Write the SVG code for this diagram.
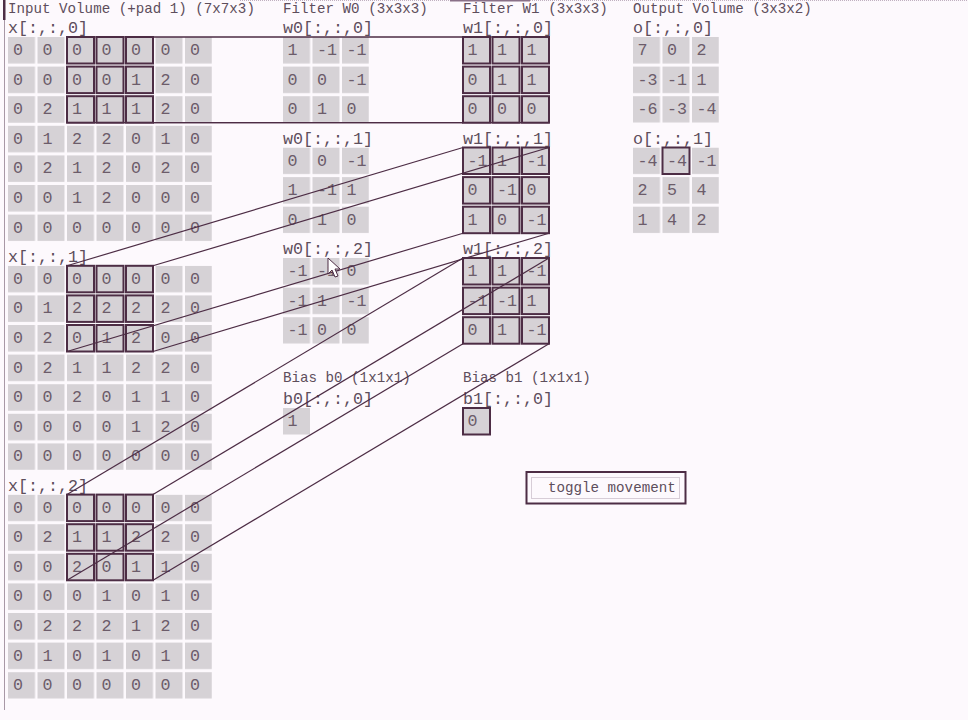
<svg xmlns="http://www.w3.org/2000/svg" width="968" height="720" viewBox="0 0 968 720">
<style>
.bg{fill:#fdf9fd}
.t{font-family:"Liberation Mono","DejaVu Sans Mono",monospace;font-size:14.2px;fill:#5e4e5c}
.l{font-family:"Liberation Mono","DejaVu Sans Mono",monospace;font-size:16.7px;fill:#5e4e5c}
.v text{font-family:"Liberation Mono","DejaVu Sans Mono",monospace;font-size:16.7px;fill:#6c5c6a}
.hl{fill:none;stroke:#4d2d45;stroke-width:2}
.cn line{stroke:#4d2d45;stroke-width:1.2}
.btn{fill:#fdf9fd;stroke:#4d2d45;stroke-width:2}
.foc{fill:none;stroke:#b0a0b0;stroke-width:1;stroke-dasharray:1 1}
</style>
<defs>
<pattern id="grid" patternUnits="userSpaceOnUse" width="29.5" height="29.6">
<rect width="27" height="26.5" fill="#d6d2d6"/>
</pattern>
<rect id="hc" width="27" height="26.5" class="hl"/>
</defs>
<rect class="bg" width="968" height="720"/>
<line x1="4.5" y1="0" x2="4.5" y2="710" stroke="#a898a6" stroke-width="1"/>
<rect x="3" y="0" width="2.5" height="20" fill="#4d2d45"/>
<line x1="240" y1="0.5" x2="968" y2="0.5" stroke="#c0b0c0" stroke-width="1" stroke-dasharray="1 1"/>
<rect x="450" y="0" width="80" height="1.5" fill="#8a7088"/>

<g id="titles">
<text class="t" x="8" y="12.5">Input Volume (+pad 1) (7x7x3)</text>
<text class="t" x="283" y="12.5">Filter W0 (3x3x3)</text>
<text class="t" x="463" y="12.5">Filter W1 (3x3x3)</text>
<text class="t" x="633" y="12.5">Output Volume (3x3x2)</text>
</g>

<g id="x0">
<text class="l" x="8" y="33">x[:,:,0]</text>
<g class="v" transform="translate(8,37)">
<rect width="204" height="204.1" fill="url(#grid)"/>
<text x="5" y="18">0</text><text x="34.5" y="18">0</text><text x="64" y="18">0</text><text x="93.5" y="18">0</text><text x="123" y="18">0</text><text x="152.5" y="18">0</text><text x="182" y="18">0</text>
<text x="5" y="47.6">0</text><text x="34.5" y="47.6">0</text><text x="64" y="47.6">0</text><text x="93.5" y="47.6">0</text><text x="123" y="47.6">1</text><text x="152.5" y="47.6">2</text><text x="182" y="47.6">0</text>
<text x="5" y="77.2">0</text><text x="34.5" y="77.2">2</text><text x="64" y="77.2">1</text><text x="93.5" y="77.2">1</text><text x="123" y="77.2">1</text><text x="152.5" y="77.2">2</text><text x="182" y="77.2">0</text>
<text x="5" y="106.8">0</text><text x="34.5" y="106.8">1</text><text x="64" y="106.8">2</text><text x="93.5" y="106.8">2</text><text x="123" y="106.8">0</text><text x="152.5" y="106.8">1</text><text x="182" y="106.8">0</text>
<text x="5" y="136.4">0</text><text x="34.5" y="136.4">2</text><text x="64" y="136.4">1</text><text x="93.5" y="136.4">2</text><text x="123" y="136.4">0</text><text x="152.5" y="136.4">2</text><text x="182" y="136.4">0</text>
<text x="5" y="166">0</text><text x="34.5" y="166">0</text><text x="64" y="166">1</text><text x="93.5" y="166">2</text><text x="123" y="166">0</text><text x="152.5" y="166">0</text><text x="182" y="166">0</text>
<text x="5" y="195.6">0</text><text x="34.5" y="195.6">0</text><text x="64" y="195.6">0</text><text x="93.5" y="195.6">0</text><text x="123" y="195.6">0</text><text x="152.5" y="195.6">0</text><text x="182" y="195.6">0</text>
<use href="#hc" x="59" y="0"/><use href="#hc" x="88.5" y="0"/><use href="#hc" x="118" y="0"/>
<use href="#hc" x="59" y="29.6"/><use href="#hc" x="88.5" y="29.6"/><use href="#hc" x="118" y="29.6"/>
<use href="#hc" x="59" y="59.2"/><use href="#hc" x="88.5" y="59.2"/><use href="#hc" x="118" y="59.2"/>
</g>
</g>

<g id="x1">
<text class="l" x="8" y="262">x[:,:,1]</text>
<g class="v" transform="translate(8,265.8)">
<rect width="204" height="204.1" fill="url(#grid)"/>
<text x="5" y="18">0</text><text x="34.5" y="18">0</text><text x="64" y="18">0</text><text x="93.5" y="18">0</text><text x="123" y="18">0</text><text x="152.5" y="18">0</text><text x="182" y="18">0</text>
<text x="5" y="47.6">0</text><text x="34.5" y="47.6">1</text><text x="64" y="47.6">2</text><text x="93.5" y="47.6">2</text><text x="123" y="47.6">2</text><text x="152.5" y="47.6">2</text><text x="182" y="47.6">0</text>
<text x="5" y="77.2">0</text><text x="34.5" y="77.2">2</text><text x="64" y="77.2">0</text><text x="93.5" y="77.2">1</text><text x="123" y="77.2">2</text><text x="152.5" y="77.2">0</text><text x="182" y="77.2">0</text>
<text x="5" y="106.8">0</text><text x="34.5" y="106.8">2</text><text x="64" y="106.8">1</text><text x="93.5" y="106.8">1</text><text x="123" y="106.8">2</text><text x="152.5" y="106.8">2</text><text x="182" y="106.8">0</text>
<text x="5" y="136.4">0</text><text x="34.5" y="136.4">0</text><text x="64" y="136.4">2</text><text x="93.5" y="136.4">0</text><text x="123" y="136.4">1</text><text x="152.5" y="136.4">1</text><text x="182" y="136.4">0</text>
<text x="5" y="166">0</text><text x="34.5" y="166">0</text><text x="64" y="166">0</text><text x="93.5" y="166">0</text><text x="123" y="166">1</text><text x="152.5" y="166">2</text><text x="182" y="166">0</text>
<text x="5" y="195.6">0</text><text x="34.5" y="195.6">0</text><text x="64" y="195.6">0</text><text x="93.5" y="195.6">0</text><text x="123" y="195.6">0</text><text x="152.5" y="195.6">0</text><text x="182" y="195.6">0</text>
<use href="#hc" x="59" y="0"/><use href="#hc" x="88.5" y="0"/><use href="#hc" x="118" y="0"/>
<use href="#hc" x="59" y="29.6"/><use href="#hc" x="88.5" y="29.6"/><use href="#hc" x="118" y="29.6"/>
<use href="#hc" x="59" y="59.2"/><use href="#hc" x="88.5" y="59.2"/><use href="#hc" x="118" y="59.2"/>
</g>
</g>

<g id="x2">
<text class="l" x="8" y="491">x[:,:,2]</text>
<g class="v" transform="translate(8,494.6)">
<rect width="204" height="204.1" fill="url(#grid)"/>
<text x="5" y="18">0</text><text x="34.5" y="18">0</text><text x="64" y="18">0</text><text x="93.5" y="18">0</text><text x="123" y="18">0</text><text x="152.5" y="18">0</text><text x="182" y="18">0</text>
<text x="5" y="47.6">0</text><text x="34.5" y="47.6">2</text><text x="64" y="47.6">1</text><text x="93.5" y="47.6">1</text><text x="123" y="47.6">2</text><text x="152.5" y="47.6">2</text><text x="182" y="47.6">0</text>
<text x="5" y="77.2">0</text><text x="34.5" y="77.2">0</text><text x="64" y="77.2">2</text><text x="93.5" y="77.2">0</text><text x="123" y="77.2">1</text><text x="152.5" y="77.2">1</text><text x="182" y="77.2">0</text>
<text x="5" y="106.8">0</text><text x="34.5" y="106.8">0</text><text x="64" y="106.8">0</text><text x="93.5" y="106.8">1</text><text x="123" y="106.8">0</text><text x="152.5" y="106.8">1</text><text x="182" y="106.8">0</text>
<text x="5" y="136.4">0</text><text x="34.5" y="136.4">2</text><text x="64" y="136.4">2</text><text x="93.5" y="136.4">2</text><text x="123" y="136.4">1</text><text x="152.5" y="136.4">2</text><text x="182" y="136.4">0</text>
<text x="5" y="166">0</text><text x="34.5" y="166">1</text><text x="64" y="166">0</text><text x="93.5" y="166">1</text><text x="123" y="166">0</text><text x="152.5" y="166">1</text><text x="182" y="166">0</text>
<text x="5" y="195.6">0</text><text x="34.5" y="195.6">0</text><text x="64" y="195.6">0</text><text x="93.5" y="195.6">0</text><text x="123" y="195.6">0</text><text x="152.5" y="195.6">0</text><text x="182" y="195.6">0</text>
<use href="#hc" x="59" y="0"/><use href="#hc" x="88.5" y="0"/><use href="#hc" x="118" y="0"/>
<use href="#hc" x="59" y="29.6"/><use href="#hc" x="88.5" y="29.6"/><use href="#hc" x="118" y="29.6"/>
<use href="#hc" x="59" y="59.2"/><use href="#hc" x="88.5" y="59.2"/><use href="#hc" x="118" y="59.2"/>
</g>
</g>

<g id="w0_0">
<text class="l" x="283" y="33">w0[:,:,0]</text>
<g class="v" transform="translate(283,37)">
<rect width="86" height="85.7" fill="url(#grid)"/>
<text x="4.5" y="18">1</text><text x="34" y="18">-1</text><text x="63.5" y="18">-1</text>
<text x="4.5" y="47.6">0</text><text x="34" y="47.6">0</text><text x="63.5" y="47.6">-1</text>
<text x="4.5" y="77.2">0</text><text x="34" y="77.2">1</text><text x="63.5" y="77.2">0</text>
</g>
</g>
<g id="w0_1">
<text class="l" x="283" y="143.5">w0[:,:,1]</text>
<g class="v" transform="translate(283,147.5)">
<rect width="86" height="85.7" fill="url(#grid)"/>
<text x="4.5" y="18">0</text><text x="34" y="18">0</text><text x="63.5" y="18">-1</text>
<text x="4.5" y="47.6">1</text><text x="34" y="47.6">-1</text><text x="63.5" y="47.6">1</text>
<text x="4.5" y="77.2">0</text><text x="34" y="77.2">1</text><text x="63.5" y="77.2">0</text>
</g>
</g>
<g id="w0_2">
<text class="l" x="283" y="253.5">w0[:,:,2]</text>
<g class="v" transform="translate(283,258)">
<rect width="86" height="85.7" fill="url(#grid)"/>
<text x="4.5" y="18">-1</text><text x="34" y="18">-1</text><text x="63.5" y="18">0</text>
<text x="4.5" y="47.6">-1</text><text x="34" y="47.6">1</text><text x="63.5" y="47.6">-1</text>
<text x="4.5" y="77.2">-1</text><text x="34" y="77.2">0</text><text x="63.5" y="77.2">0</text>
</g>
</g>

<g id="w1_0">
<text class="l" x="463" y="33">w1[:,:,0]</text>
<g class="v" transform="translate(463,37)">
<rect width="86" height="85.7" fill="url(#grid)"/>
<text x="4.5" y="18">1</text><text x="34" y="18">1</text><text x="63.5" y="18">1</text>
<text x="4.5" y="47.6">0</text><text x="34" y="47.6">1</text><text x="63.5" y="47.6">1</text>
<text x="4.5" y="77.2">0</text><text x="34" y="77.2">0</text><text x="63.5" y="77.2">0</text>
<use href="#hc" x="0" y="0"/><use href="#hc" x="29.5" y="0"/><use href="#hc" x="59" y="0"/>
<use href="#hc" x="0" y="29.6"/><use href="#hc" x="29.5" y="29.6"/><use href="#hc" x="59" y="29.6"/>
<use href="#hc" x="0" y="59.2"/><use href="#hc" x="29.5" y="59.2"/><use href="#hc" x="59" y="59.2"/>
</g>
</g>
<g id="w1_1">
<text class="l" x="463" y="143.5">w1[:,:,1]</text>
<g class="v" transform="translate(463,147.5)">
<rect width="86" height="85.7" fill="url(#grid)"/>
<text x="4.5" y="18">-1</text><text x="34" y="18">1</text><text x="63.5" y="18">-1</text>
<text x="4.5" y="47.6">0</text><text x="34" y="47.6">-1</text><text x="63.5" y="47.6">0</text>
<text x="4.5" y="77.2">1</text><text x="34" y="77.2">0</text><text x="63.5" y="77.2">-1</text>
<use href="#hc" x="0" y="0"/><use href="#hc" x="29.5" y="0"/><use href="#hc" x="59" y="0"/>
<use href="#hc" x="0" y="29.6"/><use href="#hc" x="29.5" y="29.6"/><use href="#hc" x="59" y="29.6"/>
<use href="#hc" x="0" y="59.2"/><use href="#hc" x="29.5" y="59.2"/><use href="#hc" x="59" y="59.2"/>
</g>
</g>
<g id="w1_2">
<text class="l" x="463" y="253.5">w1[:,:,2]</text>
<g class="v" transform="translate(463,258)">
<rect width="86" height="85.7" fill="url(#grid)"/>
<text x="4.5" y="18">1</text><text x="34" y="18">1</text><text x="63.5" y="18">-1</text>
<text x="4.5" y="47.6">-1</text><text x="34" y="47.6">-1</text><text x="63.5" y="47.6">1</text>
<text x="4.5" y="77.2">0</text><text x="34" y="77.2">1</text><text x="63.5" y="77.2">-1</text>
<use href="#hc" x="0" y="0"/><use href="#hc" x="29.5" y="0"/><use href="#hc" x="59" y="0"/>
<use href="#hc" x="0" y="29.6"/><use href="#hc" x="29.5" y="29.6"/><use href="#hc" x="59" y="29.6"/>
<use href="#hc" x="0" y="59.2"/><use href="#hc" x="29.5" y="59.2"/><use href="#hc" x="59" y="59.2"/>
</g>
</g>

<g id="o_0">
<text class="l" x="633" y="33">o[:,:,0]</text>
<g class="v" transform="translate(633,37)">
<rect width="86" height="85.7" fill="url(#grid)"/>
<text x="4.5" y="18">7</text><text x="34" y="18">0</text><text x="63.5" y="18">2</text>
<text x="4.5" y="47.6">-3</text><text x="34" y="47.6">-1</text><text x="63.5" y="47.6">1</text>
<text x="4.5" y="77.2">-6</text><text x="34" y="77.2">-3</text><text x="63.5" y="77.2">-4</text>
</g>
</g>
<g id="o_1">
<text class="l" x="633" y="143.5">o[:,:,1]</text>
<g class="v" transform="translate(633,147.5)">
<rect width="86" height="85.7" fill="url(#grid)"/>
<text x="4.5" y="18">-4</text><text x="34" y="18">-4</text><text x="63.5" y="18">-1</text>
<text x="4.5" y="47.6">2</text><text x="34" y="47.6">5</text><text x="63.5" y="47.6">4</text>
<text x="4.5" y="77.2">1</text><text x="34" y="77.2">4</text><text x="63.5" y="77.2">2</text>
<use href="#hc" x="29.5" y="0"/>
</g>
</g>

<g id="b0">
<text class="t" x="283" y="382">Bias b0 (1x1x1)</text>
<text class="l" x="283" y="404">b0[:,:,0]</text>
<g class="v" transform="translate(283,408)">
<rect width="27" height="26.5" fill="#d6d2d6"/>
<text x="4.5" y="18">1</text>
</g>
</g>
<g id="b1">
<text class="t" x="463" y="382">Bias b1 (1x1x1)</text>
<text class="l" x="463" y="404">b1[:,:,0]</text>
<g class="v" transform="translate(463,408)">
<rect width="27" height="26.5" fill="#d6d2d6"/>
<text x="4.5" y="18">0</text>
<use href="#hc" x="0" y="0"/>
</g>
</g>

<g id="toggle">
<rect class="btn" x="526.5" y="472" width="159" height="31.5"/>
<rect class="foc" x="531.5" y="477.5" width="148" height="21"/>
<text class="t" x="548" y="492">toggle movement</text>
</g>

<g id="connectors" class="cn">
<line x1="67" y1="37" x2="463" y2="37"/>
<line x1="153" y1="37" x2="549" y2="37"/>
<line x1="67" y1="122.7" x2="463" y2="122.7"/>
<line x1="153" y1="122.7" x2="549" y2="122.7"/>
<line x1="67" y1="265.8" x2="463" y2="147.5"/>
<line x1="153" y1="265.8" x2="549" y2="147.5"/>
<line x1="67" y1="351.5" x2="463" y2="233.2"/>
<line x1="153" y1="351.5" x2="549" y2="233.2"/>
<line x1="67" y1="494.6" x2="463" y2="258"/>
<line x1="153" y1="494.6" x2="549" y2="258"/>
<line x1="67" y1="580.3" x2="463" y2="343.7"/>
<line x1="153" y1="580.3" x2="549" y2="343.7"/>
</g>

<g id="cursor">
<polygon points="328,258 328,274 332,270 335,277 338,276 335,269 340,269" fill="#ffffff" stroke="#4d2d45" stroke-width="1"/>
</g>
</svg>
